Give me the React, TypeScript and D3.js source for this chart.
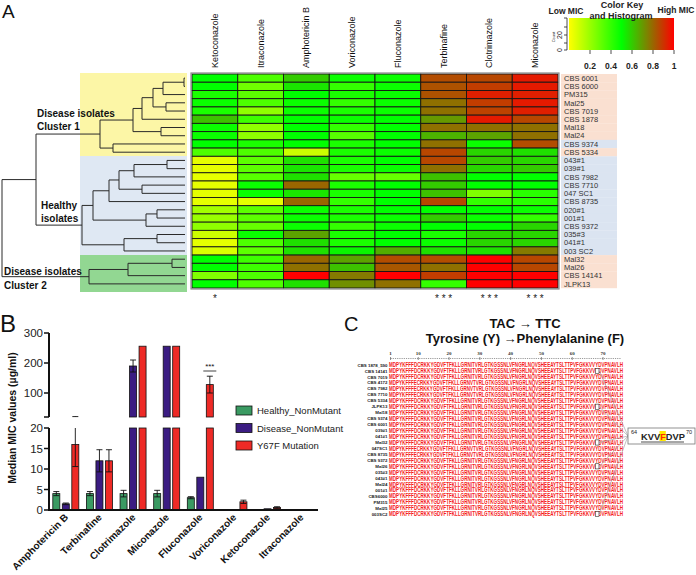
import React from "react";
import * as d3 from "d3";

// ---------------- Panel A data ----------------
const drugsA = ["Ketoconazole", "Itraconazole", "Amphotericin B", "Voriconazole", "Fluconazole", "Terbinafine", "Clotrimazole", "Miconazole"];
const isolatesA = ["CBS 6001", "CBS 6000", "PM315", "Mal25", "CBS 7019", "CBS 1878", "Mal18", "Mal24", "CBS 9374", "CBS 5334", "043#1", "039#1", "CBS 7982", "CBS 7710", "047 SC1", "CBS 8735", "020#1", "001#1", "CBS 9372", "035#3", "041#1", "003 SC2", "Mal32", "Mal26", "CBS 14141", "JLPK13"];
const isolateGroupA = ["D", "D", "D", "D", "D", "D", "D", "D", "H", "D", "H", "H", "H", "H", "H", "H", "H", "H", "H", "H", "H", "H", "D", "D", "D", "D"];
const ketoconazoleA = [0.5, 0.5, 0.45, 0.48, 0.45, 0.62, 0.48, 0.48, 0.5, 0.35, 0.05, 0.05, 0.05, 0.05, 0.05, 0.05, 0.18, 0.2, 0.22, 0.1, 0.05, 0.07, 0.5, 0.5, 0.25, 0.5];
const itraconazoleA = [0.35, 0.28, 0.32, 0.35, 0.22, 0.38, 0.22, 0.22, 0.45, 0.35, 0.32, 0.32, 0.33, 0.48, 0.48, 0.05, 0.32, 0.32, 0.3, 0.48, 0.35, 0.32, 0.38, 0.38, 0.35, 0.35];
const amphotericinA = [0.6, 0.55, 0.5, 0.48, 0.48, 0.5, 0.5, 0.5, 0.5, 0.1, 0.56, 0.55, 0.56, 0.8, 0.55, 0.8, 0.48, 0.48, 0.48, 0.68, 0.56, 0.56, 0.8, 0.78, 1.0, 0.56];
const voriconazoleA = [0.48, 0.4, 0.45, 0.4, 0.45, 0.48, 0.4, 0.33, 0.45, 0.45, 0.45, 0.45, 0.3, 0.45, 0.45, 0.4, 0.45, 0.45, 0.4, 0.45, 0.45, 0.52, 0.68, 0.62, 0.76, 0.72];
const fluconazoleA = [0.48, 0.48, 0.48, 0.48, 0.48, 0.5, 0.5, 0.5, 0.5, 0.48, 0.5, 0.48, 0.3, 0.5, 0.5, 0.5, 0.5, 0.48, 0.48, 0.5, 0.5, 0.66, 0.85, 0.83, 1.0, 0.78];
const terbinafineA = [0.85, 0.84, 0.84, 0.78, 0.78, 0.7, 0.78, 0.65, 0.78, 0.86, 0.86, 0.78, 0.62, 0.6, 0.62, 0.86, 0.5, 0.6, 0.5, 0.45, 0.48, 0.56, 0.85, 0.78, 0.88, 0.4];
const clotrimazoleA = [0.86, 0.88, 0.94, 0.88, 0.87, 0.95, 0.78, 0.68, 0.48, 0.58, 0.6, 0.58, 0.5, 0.5, 0.25, 0.4, 0.5, 0.48, 0.5, 0.58, 0.58, 0.56, 1, 1, 1, 1];
const miconazoleA = [0.95, 0.95, 0.94, 0.95, 0.94, 0.86, 0.78, 0.78, 0.85, 0.56, 0.58, 0.6, 0.5, 0.5, 0.42, 0.42, 0.48, 0.4, 0.58, 0.58, 0.58, 0.76, 0.86, 0.86, 1, 1];
const heatColumnsA = [ketoconazoleA, itraconazoleA, amphotericinA, voriconazoleA, fluconazoleA, terbinafineA, clotrimazoleA, miconazoleA];
const significanceA = ["*", "", "", "", "", "* * *", "* * *", "* * *"];
const keyTicksA = [0.2, 0.4, 0.6, 0.8, 1];

// dendrogram: [left, right, mergeHeight]; leaves are row indices
type DNode = number | [DNode, DNode, number];
const cluster1Tree: DNode = [[[[[[0, 1, 1], 2, 22], [3, 4, 19], 32], 5, 43], [6, 7, 24], 52], [8, 9, 72], 85];
const healthyTree: DNode = [[[[[[10, 11, 18], 12, 51], [13, 14, 43], 66], 15, 76], [[16, 17, 28], 18, 39], 92], [[19, 20, 28], 21, 61], 103];
const cluster2Tree: DNode = [[[22, 23, 13], 24, 57], 25, 96];
const dendroTree: DNode = [[cluster1Tree, healthyTree, 149], cluster2Tree, 183];

// ---------------- Panel B data ----------------
const categoriesB = ["Amphotericin B", "Terbinafine", "Clotrimazole", "Miconazole", "Fluconazole", "Voriconazole", "Ketoconazole", "Itraconazole"];
const healthyB = [4, 4, 4, 4, 3, 0, 0, 0];
const healthyErrB = [0.5, 0.5, 0.8, 0.8, 0.25, 0, 0, 0];
const diseaseB = [1.5, 12, 190, 256, 8, 0, 0.3, 0];
const diseaseErrB = [0.2, 2.7, 20, 0, 0, 0, 0, 0];
const mutantB = [16, 12, 256, 256, 128, 2, 0.6, 0];
const mutantErrB = [5.4, 2.7, 0, 0, 28, 0.4, 0.2, 0];
const seriesNamesB = ["Healthy_NonMutant", "Disease_NonMutant", "Y67F Mutation"];
const upperTicksB = [100, 200, 300];
const lowerTicksB = [0, 5, 10, 15, 20];

// ---------------- Panel C data ----------------
const strainsC = ["CBS 1878_590", "CBS 14141", "CBS 7019", "CBS 4172", "CBS 7982", "CBS 7710", "CBS 5334", "JLPK13", "Mal18", "CBS 9374", "CBS 6001", "039#1", "041#1", "Mal32", "047SC1", "CBS 8735", "CBS 9372", "Mal26", "035#3", "043#1", "Mal24", "001#1", "CBS6000", "PM315", "Mal25", "003SC2"];
const seqWildC = "MDPYKFFFDCRKKYGDVFTFKLLGRNITVRLGTKGSSNLVFNGRLNQVSHEEAYTSLTTPVFGKKVVYDVPNAVLH";
const seqVariantC = "MDPYKFFFECRKKYGDVFTFKLLGRNVTVRLGTKGSSNLVFNGRLNQVSHEEAYTSLTTPVFGKKVVYDVPNAVLH";
const seqMutantC = "MDPYKFFFDCRKKYGDVFTFKLLGRNITVRLGTKGSSNLVFNGRLNQVSHEEAYTSLTTPVFGKKVVFDVPNAVLH";
const seqTypeC = ["W", "M", "W", "V", "V", "V", "W", "M", "W", "W", "W", "W", "W", "M", "V", "V", "W", "M", "W", "W", "W", "W", "W", "W", "W", "M"];
const rulerC = [1, 10, 20, 30, 40, 50, 60, 70];
const mutPosC = 68;

const FONT = "Liberation Sans, Arial, Helvetica, sans-serif";

function PanelA() {
  const x = d3.scaleBand().domain(drugsA).range([192, 558]);
  const y = d3.scaleBand().domain(isolatesA).range([74, 288]);
  const color = d3.scaleLinear<string>().domain([0, 0.5, 1]).range(["#ffff00", "#00ff00", "#ff0000"]);
  const bw = x.bandwidth();
  const bh = y.bandwidth();
  const rowY = (i: number) => (y(isolatesA[i]) as number) + bh / 2;

  const hx = d3.scaleLinear().domain([0, 183]).range([185, 2]);
  const segs: [number, number, number, number][] = [];
  function lay(n: DNode): { x: number; y: number } {
    if (typeof n === "number") return { x: hx(0), y: rowY(n) };
    const a = lay(n[0]);
    const b = lay(n[1]);
    const nx = hx(n[2]);
    segs.push([nx, a.y, nx, b.y]);
    segs.push([nx, a.y, a.x, a.y]);
    segs.push([nx, b.y, b.x, b.y]);
    return { x: nx, y: (a.y + b.y) / 2 };
  }
  lay(dendroTree);

  const keyX = d3.scaleLinear().domain([0, 1]).range([569, 674]);
  const keyStops = d3.range(0, 1.0001, 0.05);

  return (
    <g>
      <text x={2} y={18} fontSize={19} fill="#111">A</text>
      <rect x={80} y={73} width={107} height={83} fill="#fcf6a6" />
      <rect x={80} y={156} width={107} height={99} fill="#dfe8f3" />
      <rect x={80} y={255} width={107} height={37} fill="#92d792" />
      {segs.map((s, i) => (
        <line key={i} x1={s[0]} y1={s[1]} x2={s[2]} y2={s[3]} stroke="#2a2a2a" strokeWidth={1} />
      ))}
      <text x={37} y={117} fontSize={10} fontWeight="bold" fill="#111">Disease isolates</text>
      <text x={37} y={130} fontSize={10} fontWeight="bold" fill="#111">Cluster 1</text>
      <text x={41} y={209} fontSize={10} fontWeight="bold" fill="#111">Healthy</text>
      <text x={41} y={222} fontSize={10} fontWeight="bold" fill="#111">isolates</text>
      <text x={4} y={275} fontSize={10} fontWeight="bold" fill="#111">Disease isolates</text>
      <text x={4} y={289} fontSize={10} fontWeight="bold" fill="#111">Cluster 2</text>

      {heatColumnsA.map((col, ci) =>
        col.map((v, ri) => (
          <rect key={ci + "-" + ri} x={x(drugsA[ci])} y={y(isolatesA[ri])} width={bw} height={bh}
            fill={color(v)} stroke="#151515" strokeWidth={0.9} />
        ))
      )}
      <rect x={191} y={73} width={368} height={216} fill="none" stroke="#888" strokeWidth={1.2} />
      {drugsA.map((d) => (
        <text key={d} transform={`translate(${(x(d) as number) + bw / 2 + 3},68) rotate(-90)`} fontSize={9} fill="#111">{d}</text>
      ))}
      {drugsA.map((d, i) => (
        <text key={"s" + d} x={(x(d) as number) + bw / 2} y={302} fontSize={10} textAnchor="middle" fill="#222">{significanceA[i]}</text>
      ))}
      {isolatesA.map((s, i) => (
        <g key={s}>
          <rect x={561} y={y(s)} width={56} height={bh + 0.2} fill={isolateGroupA[i] === "D" ? "#fae0d1" : "#dbe4f1"} />
          <text x={564} y={rowY(i) + 2.7} fontSize={7.5} fill="#333">{s}</text>
        </g>
      ))}

      <defs>
        <linearGradient id="keyGrad" x1="0" x2="1" y1="0" y2="0">
          {keyStops.map((t) => (
            <stop key={t} offset={t} stopColor={color(t)} />
          ))}
        </linearGradient>
      </defs>
      <rect x={keyX(0)} y={18} width={keyX(1) - keyX(0)} height={32} fill="url(#keyGrad)" />
      <line x1={567} y1={18} x2={567} y2={50} stroke="#222" strokeWidth={0.8} />
      {[18, 27, 35, 43, 50].map((t) => (
        <line key={t} x1={564} y1={t} x2={567} y2={t} stroke="#222" strokeWidth={0.8} />
      ))}
      <text transform="translate(562,50) rotate(-90)" fontSize={7} textAnchor="middle" fill="#222">0</text>
      <text transform="translate(562,35) rotate(-90)" fontSize={7} textAnchor="middle" fill="#222">20</text>
      <text transform="translate(555,37) rotate(-90)" fontSize={4} textAnchor="middle" fill="#222">Count</text>
      {keyTicksA.map((t) => (
        <g key={t}>
          <line x1={keyX(t)} y1={50} x2={keyX(t)} y2={54} stroke="#222" strokeWidth={0.8} />
          <text x={keyX(t)} y={69} fontSize={8.5} fontWeight="bold" textAnchor="middle" fill="#222">{t}</text>
        </g>
      ))}
      <text x={566} y={14} fontSize={8.5} fontWeight="bold" textAnchor="middle" fill="#222">Low MIC</text>
      <text x={622} y={8} fontSize={9} fontWeight="bold" textAnchor="middle" fill="#222">Color Key</text>
      <text x={621} y={19} fontSize={9} fontWeight="bold" textAnchor="middle" fill="#222">and Histogram</text>
      <text x={676} y={13} fontSize={8.5} fontWeight="bold" textAnchor="middle" fill="#222">High MIC</text>
    </g>
  );
}

function PanelB() {
  const x = d3.scaleBand().domain(categoriesB).range([49, 318]);
  const yLow = d3.scaleLinear().domain([0, 20]).range([510, 428]);
  const yHigh = d3.scaleLinear().domain([20, 300]).range([417, 333]);
  const series = [
    { vals: healthyB, err: healthyErrB, color: "#3a9a62", off: -9.5 },
    { vals: diseaseB, err: diseaseErrB, color: "#3b1c82", off: 0 },
    { vals: mutantB, err: mutantErrB, color: "#ee2a26", off: 9.5 },
  ];
  const barW = 7;
  const cx = (c: string) => (x(c) as number) + x.bandwidth() / 2;
  const yv = (v: number) => (v <= 20 ? yLow(v) : yHigh(v));

  return (
    <g>
      <text x={0} y={332} fontSize={24} fill="#111">B</text>
      {series.map((s, si) =>
        categoriesB.map((c, ci) => {
          const v = s.vals[ci];
          if (v <= 0) return null;
          const bx = cx(c) + s.off - barW / 2;
          const parts = [];
          parts.push(
            <rect key="l" x={bx} y={yLow(Math.min(v, 20))} width={barW} height={yLow(0) - yLow(Math.min(v, 20))}
              fill={s.color} stroke="#111" strokeWidth={0.8} />
          );
          if (v > 20) {
            parts.push(
              <rect key="h" x={bx} y={yHigh(v)} width={barW} height={yHigh(20) - yHigh(v)}
                fill={s.color} stroke="#111" strokeWidth={0.8} />
            );
          }
          const e = s.err[ci];
          if (e > 0) {
            const lo = v - e;
            const hi = v + e;
            const ex = cx(c) + s.off;
            if (lo < 20) parts.push(<line key="el" x1={ex} x2={ex} y1={yLow(Math.max(lo, 0))} y2={yLow(Math.min(hi, 20))} stroke="#111" strokeWidth={0.9} />);
            if (hi > 20) parts.push(<line key="eh" x1={ex} x2={ex} y1={yHigh(Math.max(lo, 20))} y2={yHigh(hi)} stroke="#111" strokeWidth={0.9} />);
            parts.push(<line key="c1" x1={ex - 3} x2={ex + 3} y1={yv(lo)} y2={yv(lo)} stroke="#111" strokeWidth={0.9} />);
            parts.push(<line key="c2" x1={ex - 3} x2={ex + 3} y1={yv(hi)} y2={yv(hi)} stroke="#111" strokeWidth={0.9} />);
          }
          return <g key={si + "-" + ci}>{parts}</g>;
        })
      )}
      <text x={cx("Fluconazole") + 9.5} y={369} fontSize={8} textAnchor="middle" fill="#111">***</text>
      <line x1={cx("Fluconazole") + 3} x2={cx("Fluconazole") + 16} y1={371} y2={371} stroke="#111" strokeWidth={0.8} />

      <line x1={49} x2={49} y1={yHigh(300)} y2={yHigh(20)} stroke="#111" strokeWidth={2} />
      <line x1={49} x2={49} y1={yLow(20)} y2={yLow(0)} stroke="#111" strokeWidth={2} />
      <line x1={48} x2={318} y1={yLow(0)} y2={yLow(0)} stroke="#111" strokeWidth={2} />
      {[...upperTicksB, 20].map((t) => (
        <line key={"u" + t} x1={44} x2={49} y1={yHigh(t)} y2={yHigh(t)} stroke="#111" strokeWidth={1.5} />
      ))}
      {upperTicksB.map((t) => (
        <text key={"ut" + t} x={43} y={yHigh(t) + 4} fontSize={11.5} textAnchor="end" fill="#222">{t}</text>
      ))}
      {lowerTicksB.map((t) => (
        <g key={"l" + t}>
          <line x1={44} x2={49} y1={yLow(t)} y2={yLow(t)} stroke="#111" strokeWidth={1.5} />
          <text x={43} y={yLow(t) + 4} fontSize={11.5} textAnchor="end" fill="#222">{t}</text>
        </g>
      ))}
      <text transform="translate(16,418) rotate(-90)" fontSize={10.5} fontWeight="bold" textAnchor="middle" fill="#111">Median MIC values (µg/ml)</text>
      {categoriesB.map((c) => (
        <text key={c} transform={`translate(${cx(c) + 3},518) rotate(-45)`} fontSize={10} fontWeight="bold" textAnchor="end" fill="#111">{c}</text>
      ))}
      {seriesNamesB.map((n, i) => (
        <g key={n}>
          <rect x={236} y={406 + i * 17.5} width={16} height={9} fill={series[i].color} stroke="#111" strokeWidth={0.8} />
          <text x={257} y={414 + i * 17.5} fontSize={9.5} fill="#222">{n}</text>
        </g>
      ))}
    </g>
  );
}

function PanelC() {
  const seqX0 = 389;
  const seqW = 234;
  const nRes = seqWildC.length;
  const rx = d3.scaleLinear().domain([0, nRes]).range([seqX0, seqX0 + seqW]);
  const ry = d3.scaleLinear().domain([0, strainsC.length - 1]).range([365, 514]);
  const calloutX = 628;
  const calloutY = 436;
  const sx = 0.66;
  return (
    <g>
      <text x={344} y={331} fontSize={20} fill="#111">C</text>
      <text x={525} y={328} fontSize={13} fontWeight="bold" textAnchor="middle" fill="#111">TAC → TTC</text>
      <text x={525} y={343} fontSize={13} fontWeight="bold" textAnchor="middle" fill="#111">Tyrosine (Y) →Phenylalanine (F)</text>
      {rulerC.map((p) => (
        <g key={p}>
          <text x={rx(p - 0.5)} y={355} fontSize={5} fontWeight="bold" fontFamily="Liberation Serif, serif" textAnchor="middle" fill="#333">{p}</text>
          <line x1={rx(p - 0.5)} x2={rx(p - 0.5)} y1={357} y2={360} stroke="#444" strokeWidth={0.6} />
        </g>
      ))}
      <line x1={rx(0.5)} x2={rx(nRes - 0.5)} y1={358.5} y2={358.5} stroke="#555" strokeWidth={0.6} strokeDasharray="1.2,1" />
      {strainsC.map((s, i) => {
        const seq = seqTypeC[i] === "M" ? seqMutantC : seqTypeC[i] === "V" ? seqVariantC : seqWildC;
        return (
          <g key={s + i}>
            <text x={seqX0 - 1.5} y={ry(i) + 1.6} fontSize={4.4} fontWeight="bold" textAnchor="end" fill="#222">{s}</text>
            <g transform={`translate(${seqX0},${ry(i) + 2.3}) scale(${sx},1)`}>
              <text x={0} y={0} fontSize={6.6} fontWeight="bold" fill="#f51c1c" textLength={seqW / sx} lengthAdjust="spacingAndGlyphs">{seq}</text>
            </g>
          </g>
        );
      })}
      {strainsC.map((s, i) =>
        seqTypeC[i] === "M" ? (
          <g key={"m" + i}>
            <line x1={rx(mutPosC) + 1} y1={ry(i)} x2={calloutX} y2={calloutY} stroke="#9a9a9a" strokeWidth={0.6} />
            <rect x={rx(mutPosC - 1)} y={ry(i) - 2.6} width={rx(mutPosC) - rx(mutPosC - 1) + 0.6} height={5.2} fill="#fff" stroke="#333" strokeWidth={0.6} />
          </g>
        ) : null
      )}
      <rect x={calloutX} y={428} width={67} height={16} fill="#fff" stroke="#777" strokeWidth={0.8} />
      <rect x={659.5} y={431} width={6.3} height={10} fill="#ffe800" />
      <text x={631} y={434} fontSize={5.5} fill="#222">64</text>
      <text x={641} y={440} fontSize={9.3} fontWeight="bold" fill="#222">
        KVV<tspan fill="#ff2a00">F</tspan>DVP
      </text>
      <line x1={641} x2={684} y1={442} y2={442} stroke="#222" strokeWidth={0.8} />
      <text x={686} y={434} fontSize={5.5} fill="#222">70</text>
    </g>
  );
}

export default function App() {
  return (
    <svg width={696} height={575} style={{ position: "absolute", left: 0, top: 0, background: "#fff" }} fontFamily={FONT}>
      <rect width={696} height={575} fill="#fff" />
      <PanelA />
      <PanelB />
      <PanelC />
    </svg>
  );
}
